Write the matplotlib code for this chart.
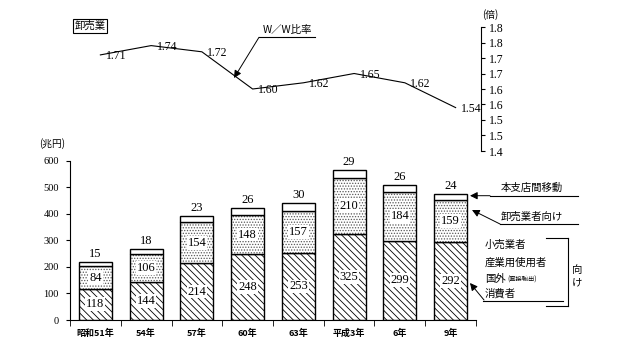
import numpy as np
import matplotlib
matplotlib.use("Agg")
import matplotlib.pyplot as plt
from matplotlib.lines import Line2D
from matplotlib.text import Annotation

plt.rcParams["font.family"] = ["Liberation Serif", "Noto Sans CJK JP", "DejaVu Sans"]
plt.rcParams["hatch.linewidth"] = 0.6

JP = ["Noto Sans CJK JP", "DejaVu Sans"]

# data
years = ["昭和51年", "54年", "57年", "60年", "63年", "平成3年", "6年", "9年"]
retail = [118, 144, 214, 248, 253, 325, 299, 292]      # 小売業者・産業用使用者・国外・消費者向け
wholesale = [84, 106, 154, 148, 157, 210, 184, 159]    # 卸売業者向け
branch = [15, 18, 23, 26, 30, 29, 26, 24]              # 本支店間移動
ww_ratio = [1.71, 1.74, 1.72, 1.60, 1.62, 1.65, 1.62, 1.54]
ratio_ticks = [1.4, 1.45, 1.5, 1.55, 1.6, 1.65, 1.7, 1.75, 1.8]
ratio_ticklabels = ["1.4", "1.5", "1.5", "1.6", "1.6", "1.7", "1.7", "1.8", "1.8"]

W, H = 627, 345


def fp(x, y):
    # pixel position -> figure fraction
    return x / W, 1 - y / H


fig = plt.figure(figsize=(W / 100, H / 100), dpi=100)

# ---- bar chart ----
ax = fig.add_axes([70 / W, 1 - 320 / H, (476 - 70) / W, (320 - 160.7) / H])
x = np.arange(len(years))
r = np.array(retail)
w = np.array(wholesale)
b = np.array(branch)
bw = 0.65
ax.bar(x, r, width=bw, color="white", edgecolor="black", lw=1.0, hatch="\\\\\\\\\\")
# dots drawn in grey (hatch follows edgecolor), outline added on top in black
ax.bar(x, w, bottom=r, width=bw, color="white", edgecolor="0.35", lw=0, hatch="......")
ax.bar(x, w, bottom=r, width=bw, fill=False, edgecolor="black", lw=1.0)
ax.bar(x, b, bottom=r + w, width=bw, color="white", edgecolor="black", lw=1.0)

box = dict(fc="white", ec="none", pad=0.6)
for i in range(len(years)):
    ax.text(x[i], r[i] / 2, str(r[i]), ha="center", va="center", fontsize=9, bbox=box)
    ax.text(x[i], r[i] + w[i] / 2, str(w[i]), ha="center", va="center", fontsize=9, bbox=box)
    ax.annotate(str(b[i]), (x[i], r[i] + w[i] + b[i]), xytext=(0, 1.5),
                textcoords="offset points", ha="center", va="bottom", fontsize=9)

ax.set_xlim(-0.5, len(years) - 0.5)
ax.set_ylim(0, 600)
ax.set_yticks(range(0, 700, 100))
ax.tick_params(axis="y", length=3, direction="out", labelsize=7.5, pad=5)
ax.set_xticks(x)
ax.set_xticklabels(years, family=JP, fontweight="bold", fontsize=6.5)
ax.set_xticks(np.arange(-0.5, len(years), 1), minor=True)
ax.tick_params(axis="x", which="major", length=0, pad=6)
ax.tick_params(axis="x", which="minor", length=4, direction="out")
for s in ["top", "right"]:
    ax.spines[s].set_visible(False)

# ---- W/W ratio line ----
ax2 = fig.add_axes([75 / W, 1 - 151 / H, (481 - 75) / W, (151 - 27) / H])
ax2.plot(x, ww_ratio, color="black", lw=0.8)
for i, v in enumerate(ww_ratio):
    ax2.annotate(f"{v:.2f}", (x[i], v), xytext=(4, -1), textcoords="offset points",
                 ha="left", va="center", fontsize=8.5)
ax2.set_xlim(-0.5, len(years) - 0.5)
ax2.set_ylim(1.4, 1.8)
ax2.yaxis.tick_right()
ax2.set_yticks(ratio_ticks)
ax2.set_yticklabels(ratio_ticklabels)
ax2.tick_params(axis="y", length=3, direction="out", labelsize=8.5, pad=3)
ax2.set_xticks([])
for s in ["top", "left", "bottom"]:
    ax2.spines[s].set_visible(False)
ax2.patch.set_visible(False)

# ---- texts and callouts (figure pixel positions) ----
fig.text(*fp(52, 144), "(兆円)", ha="center", va="center", fontsize=7, family=JP)
fig.text(*fp(490, 15), "(倍)", ha="center", va="center", fontsize=7, family=JP)
fig.text(*fp(90, 26), "卸売業", ha="center", va="center", fontsize=7.5, family=JP,
         bbox=dict(fc="white", ec="black", lw=0.8, pad=1.2))

arrow = dict(arrowstyle="-|>", mutation_scale=11, lw=0.7, color="black", shrinkA=0, shrinkB=0)


def hline(x0, x1, y):
    fig.add_artist(Line2D([x0 / W, x1 / W], [1 - y / H, 1 - y / H], color="black", lw=0.8))


def vline(x0, y0, y1):
    fig.add_artist(Line2D([x0 / W, x0 / W], [1 - y0 / H, 1 - y1 / H], color="black", lw=0.8))


def callout(tip, start):
    fig.add_artist(Annotation("", xy=fp(*tip), xytext=fp(*start), xycoords="figure fraction",
                              textcoords="figure fraction", arrowprops=arrow))


# W/W比率
fig.text(*fp(287, 30), "W／W比率", ha="center", va="center", fontsize=7.5, family=JP)
hline(259, 315, 37.3)
callout((234, 78), (259, 37.3))

# 本支店間移動
fig.text(*fp(501, 188), "本支店間移動", ha="left", va="center", fontsize=7.5, family=JP)
hline(490, 578, 195.7)
callout((470, 195.7), (490, 195.7))

# 卸売業者向け
fig.text(*fp(501, 216.7), "卸売業者向け", ha="left", va="center", fontsize=7.5, family=JP)
hline(500, 578, 224)
callout((472, 210), (500, 224))

# 小売業者 etc. 向け
fig.text(*fp(485, 245), "小売業者", ha="left", va="center", fontsize=7.5, family=JP)
fig.text(*fp(485, 262.7), "産業用使用者", ha="left", va="center", fontsize=7.5, family=JP)
fig.text(*fp(485, 279), "国外", ha="left", va="center", fontsize=7.5, family=JP)
fig.text(*fp(507, 279.5), "(直接輸出)", ha="left", va="center", fontsize=4.5, family=JP)
fig.text(*fp(485, 294), "消費者", ha="left", va="center", fontsize=7.5, family=JP)
hline(483, 563, 300.7)
callout((470, 283), (484, 300))
hline(546, 568, 238.3)
vline(568, 238.3, 306)
hline(546, 568, 306)
fig.text(*fp(577, 276), "向\nけ", ha="center", va="center", fontsize=7.5, family=JP,
         linespacing=1.3)

fig.savefig("out.png", dpi=100)
